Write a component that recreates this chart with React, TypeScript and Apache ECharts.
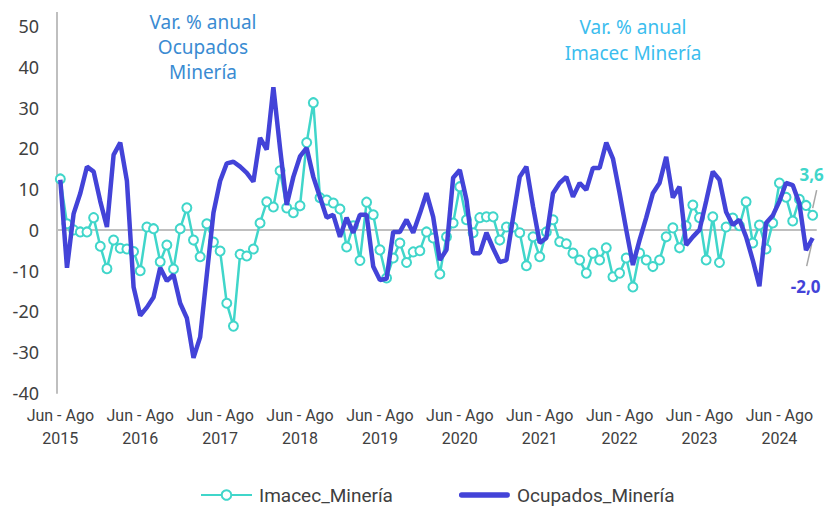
import React, { useEffect, useRef } from "react";
import * as echarts from "echarts";

const MONTHS = ["Ene", "Feb", "Mar", "Abr", "May", "Jun", "Jul", "Ago", "Sep", "Oct", "Nov", "Dic"];
const START_YEAR = 2015;
const START_MONTH = 5; // Jun

const imacec = [
  12.5, 1.5, 0, -0.5, -0.5, 3, -4, -9.5, -2.5, -4.5,
  -4.7, -5.3, -10, 0.7, 0.3, -7.8, -3.7, -9.6, 0.3, 5.4,
  -2.5, -6.6, 1.5, -3, -5.2, -18, -23.6, -6, -6.4, -4.7,
  1.7, 6.9, 5.6, 14.5, 5.4, 4.2, 5.9, 21.4, 31.2, 7.9,
  7.3, 6.6, 5.1, -4.2, 1, -7.5, 6.8, 3.7, -4.9, -11.8,
  -6.9, -3.2, -8, -5.4, -5.1, -0.5, -2, -10.8, -1.7, 1.7,
  10.6, 2.5, -0.7, 3, 3.2, 3.2, -2.5, 0.7, 0.7, -0.7,
  -8.8, -1.7, -6.6, -0.5, 2.5, -2.9, -3.4, -5.7, -7.4, -10.6,
  -5.7, -7.4, -4.4, -11.5, -10.6, -6.9, -14, -5.7, -7.4, -9,
  -7.4, -1.7, 0.5, -4.4, 1, 6.1, 3, -7.4, 3.2, -8,
  0.7, 2.9, 1, 6.9, -3.2, 1.2, -4.7, 1.7, 11.5, 8,
  2.2, 7.5, 6, 3.6,
];

const ocupados = [
  12.3, -9.3, 4, 9, 15.5, 14.3, 7, 0.7, 18.4, 21.4,
  12, -14, -21, -19, -16.5, -9.3, -12.5, -11, -18, -21.6,
  -31.4, -26.3, -11, 4.2, 12, 16.3, 16.7, 15.5, 14, 11.8,
  22.6, 19.7, 35, 20, 6.1, 13, 18, 20.1, 13, 8,
  3, 3.7, -1.7, 3, -0.7, 3.7, 3.7, -9, -12.3, -12,
  -0.5, -0.5, 2.5, -0.7, 4, 9, 3.2, -7.4, -4.9, 12.8,
  14.7, 7.4, -5.7, -5.7, -0.7, -4.5, -7.9, -7.4, 3, 13,
  15.5, 5.7, -3.2, -2, 9, 11.5, 13, 8.1, 11.5, 9.8,
  15.2, 15.2, 21.4, 17.5, 9, 0, -8.6, -2.5, 3, 9,
  11.5, 17.9, 7.9, 10.6, -3.7, -1.7, 0, 7, 14.3, 12.3,
  4.4, 1.2, 2.5, -1.7, -7.4, -13.8, 1.7, 3.5, 7, 11.5,
  11, 6.5, -5, -2.0,
];

const categories = imacec.map((_, i) => {
  const s = START_MONTH + i;
  const e = s + 2;
  return `${MONTHS[s % 12]} - ${MONTHS[e % 12]}\n${START_YEAR + Math.floor(e / 12)}`;
});

const TEAL = "#40D6CA";
const BLUE = "#4343D8";
const AXIS_GRAY = "#BFBFBF";
const TEXT = "#404040";
const NARROW = "'Roboto', 'Noto Sans', sans-serif";
const SANS = "'Noto Sans', 'Open Sans', sans-serif";

const fmt = (v: number) => v.toFixed(1).replace(".", ",");

export default function App() {
  const ref = useRef<HTMLDivElement>(null);
  useEffect(() => {
    document.body.style.margin = "0";
    if (!ref.current) return;
    const chart = echarts.init(ref.current, null, { renderer: "svg" });
    chart.setOption({
      animation: false,
      backgroundColor: "#ffffff",
      grid: { left: 57, right: 16, top: 26, bottom: 117, containLabel: false },
      legend: {
        top: 484,
        left: 200,
        itemGap: 66,
        itemWidth: 51,
        itemHeight: 12,
        padding: 0,
        textStyle: { fontSize: 19, lineHeight: 22, color: TEXT, fontFamily: NARROW, padding: [0, 0, 0, 2] },
        data: [
          { name: "Imacec_Minería" },
          {
            name: "Ocupados_Minería",
            icon: "path://M3,0 L53,0 A3,3 0 0 1 53,6 L3,6 A3,3 0 0 1 3,0 Z",
          },
        ],
      },
      xAxis: [
        {
          type: "category",
          data: categories,
          boundaryGap: true,
          position: "bottom",
          axisLine: { show: false, onZero: false },
          axisTick: { show: false },
          axisLabel: {
            interval: 11,
            fontSize: 16,
            color: TEXT,
            lineHeight: 23,
            margin: 11,
            fontFamily: NARROW,
          },
        },
        {
          type: "category",
          data: categories,
          boundaryGap: true,
          position: "top",
          axisLine: { show: true, onZero: true, lineStyle: { color: AXIS_GRAY, width: 2 } },
          axisTick: { show: false },
          axisLabel: { show: false },
        },
      ],
      yAxis: {
        type: "value",
        min: -40,
        max: 50,
        interval: 10,
        axisLine: { show: true, lineStyle: { color: AXIS_GRAY, width: 2 } },
        axisTick: { show: false },
        splitLine: { show: false },
        axisLabel: { fontSize: 18, color: TEXT, margin: 18, fontFamily: SANS },
      },
      series: [
        {
          name: "Imacec_Minería",
          type: "line",
          data: imacec,
          symbol: "circle",
          symbolSize: 9,
          showSymbol: true,
          showAllSymbol: true,
          itemStyle: { color: "#ffffff", borderColor: TEAL, borderWidth: 2 },
          lineStyle: { color: TEAL, width: 2.5 },
          z: 2,
        },
        {
          name: "Ocupados_Minería",
          type: "line",
          data: ocupados,
          symbol: "none",
          showSymbol: false,
          itemStyle: { color: BLUE },
          lineStyle: { color: BLUE, width: 4.5 },
          z: 3,
        },
      ],
    });

    const n = imacec.length - 1;
    const p1 = chart.convertToPixel({ seriesIndex: 0 }, [n, imacec[n]]) as number[];
    const p2 = chart.convertToPixel({ seriesIndex: 1 }, [n, ocupados[n]]) as number[];

    chart.setOption({
      graphic: [
        {
          type: "line",
          shape: { x1: 57, y1: 12, x2: 57, y2: 27 },
          style: { stroke: AXIS_GRAY, lineWidth: 2 },
          silent: true,
        },
        {
          type: "text",
          x: 203,
          y: 9,
          style: {
            text: "Var. % anual\nOcupados\nMinería",
            fill: "#3A8BD2",
            font: `19px ${SANS}`,
            lineHeight: 25,
            align: "center",
          },
        },
        {
          type: "text",
          x: 633,
          y: 14,
          style: {
            text: "Var. % anual\nImacec Minería",
            fill: "#3BBDEE",
            font: `19px ${SANS}`,
            lineHeight: 26,
            align: "center",
          },
        },
        {
          type: "line",
          shape: { x1: p1[0] + 4, y1: p1[1] - 25, x2: p1[0], y2: p1[1] - 7 },
          style: { stroke: "#A6A6A6", lineWidth: 1.5 },
          silent: true,
        },
        {
          type: "text",
          x: p1[0] - 1,
          y: p1[1] - 41,
          style: {
            text: fmt(imacec[n]),
            fill: TEAL,
            font: `bold 17px ${SANS}`,
            align: "center",
            verticalAlign: "middle",
          },
        },
        {
          type: "line",
          shape: { x1: p2[0] - 1, y1: p2[1] + 6, x2: p2[0] - 6, y2: p2[1] + 28 },
          style: { stroke: "#A6A6A6", lineWidth: 1.5 },
          silent: true,
        },
        {
          type: "text",
          x: p2[0] - 7,
          y: p2[1] + 48,
          style: {
            text: fmt(ocupados[n]),
            fill: BLUE,
            font: `bold 17px ${SANS}`,
            align: "center",
            verticalAlign: "middle",
          },
        },
      ],
    });

    return () => chart.dispose();
  }, []);
  return <div ref={ref} style={{ width: 832, height: 510 }} />;
}
